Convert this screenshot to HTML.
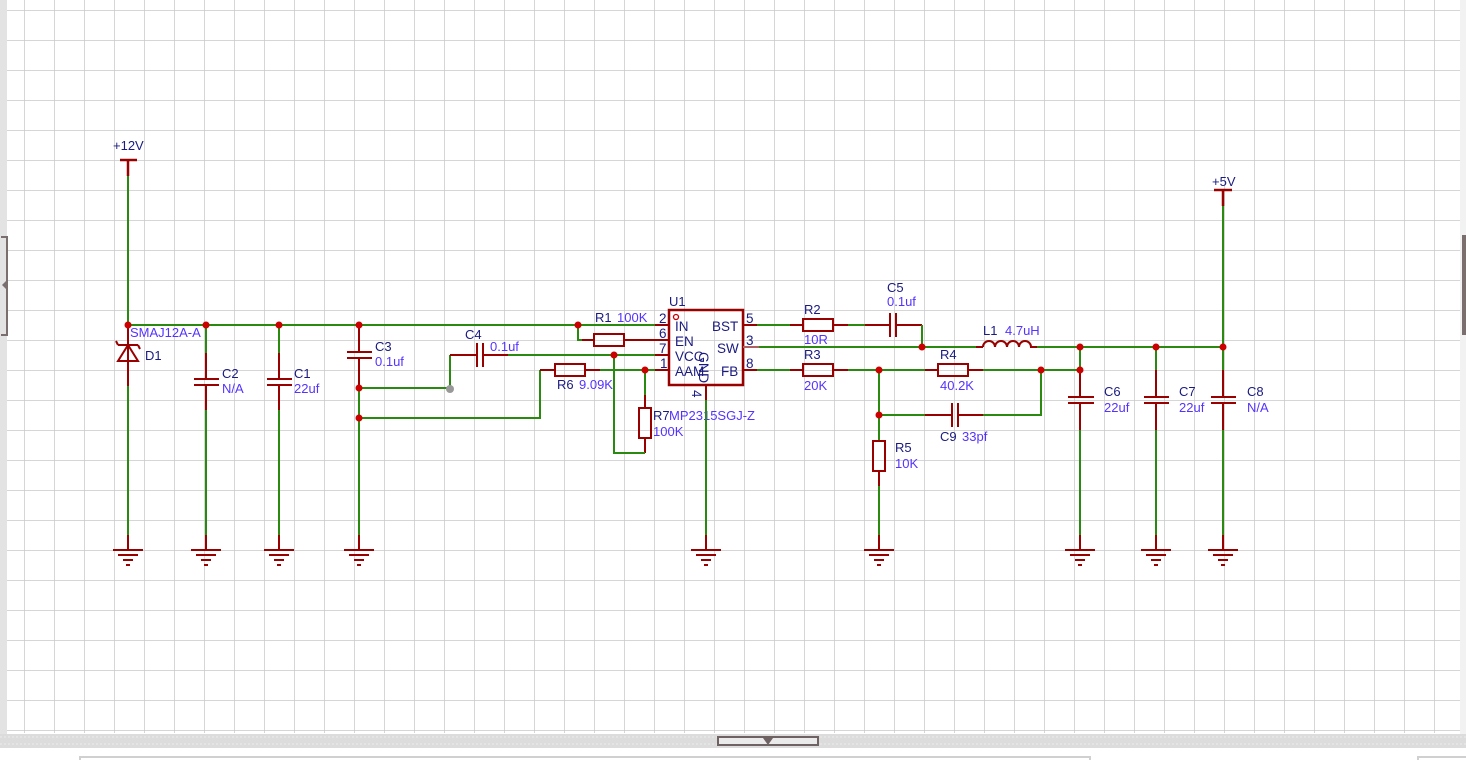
<!DOCTYPE html>
<html><head><meta charset="utf-8"><style>
html,body{margin:0;padding:0;background:#fff;}
svg{display:block;font-family:"Liberation Sans",sans-serif;}
.g{stroke:#2a8a10;stroke-width:2;fill:none}
.r{stroke:#990000;stroke-width:2;fill:none}
.rt{stroke:#990000;stroke-width:2.5;fill:none}
.d{fill:#cc0000}
.bl{fill:#1a1a80;font-size:13px}
.pu{fill:#5533ff;font-size:13px}
.pk{fill:#1a1a80;font-size:13px}
</style></head><body>
<svg width="1466" height="760" viewBox="0 0 1466 760" xmlns="http://www.w3.org/2000/svg">
<defs>
<pattern id="grid" x="24" y="10" width="30" height="30" patternUnits="userSpaceOnUse">
<path d="M0 0H30M0 0V30" stroke="#c9c9c9" stroke-width="1.5" fill="none"/>
</pattern>
<g id="gnd">
<path d="M-15 0H15M-10 5H10M-5 10H5M-2 15H2" stroke="#990000" stroke-width="2" fill="none"/>
</g>
</defs>
<rect x="0" y="0" width="1466" height="760" fill="#fff"/>
<rect x="7" y="0" width="1453" height="733" fill="url(#grid)"/>
<rect x="0" y="0" width="7" height="735" fill="#e3e3e3"/>
<path d="M1 237H7V335H1" stroke="#7a6e6e" stroke-width="2" fill="none"/>
<path d="M7 280L2 285L7 290Z" fill="#7a6e6e"/>
<rect x="1460" y="0" width="6" height="735" fill="#f2f2f2"/>
<rect x="1462" y="235" width="4" height="100" fill="#7a6e6e"/>
<rect x="0" y="734" width="1466" height="14" fill="#dcdcdc"/>
<path d="M0 737H1466M0 744H1466" stroke="#ececec" stroke-width="1" stroke-dasharray="2 2"/>
<rect x="718" y="737" width="100" height="8" fill="#eaeaea" stroke="#6e6262" stroke-width="2"/>
<path d="M763 738L773 738L768 745Z" fill="#6e6262"/>
<rect x="0" y="748" width="1466" height="12" fill="#fff"/>
<path d="M80 760V757H1090V760M1418 760V757H1466" stroke="#d0d0d0" stroke-width="2" fill="none"/>

<text x="113" y="150" class="bl">+12V</text>
<path class="rt" d="M120 160H137M128 160V176"/>
<path class="g" d="M128 176V325"/>
<path class="g" d="M128 325H655"/>
<path class="r" d="M655 325H669"/>
<path class="r" d="M128 325V386"/>
<path class="r" d="M118 345H138M118 345L116 341M138 345L140 349M128 345L118 361H138Z"/>
<path class="g" d="M128 386V535"/>
<path class="r" d="M128 535V550"/>
<use href="#gnd" x="128" y="550"/>
<text x="130" y="337" class="pu">SMAJ12A-A</text>
<text x="145" y="360" class="pk">D1</text>
<path class="g" d="M206 325V353M206 410V535"/>
<path class="r" d="M206 353V379M194 379H219M194 385H219M206 385V410M206 535V550"/>
<use href="#gnd" x="206" y="550"/>
<text x="222" y="378" class="pk">C2</text><text x="222" y="393" class="pu">N/A</text>
<path class="g" d="M279 325V353M279 410V535"/>
<path class="r" d="M279 353V379M267 379H292M267 385H292M279 385V410M279 535V550"/>
<use href="#gnd" x="279" y="550"/>
<text x="294" y="378" class="pk">C1</text><text x="294" y="393" class="pu">22uf</text>
<path class="r" d="M359 325V352M347 352H372M347 358H372M359 358V388"/>
<path class="g" d="M359 388V535"/>
<path class="r" d="M359 535V550"/>
<use href="#gnd" x="359" y="550"/>
<text x="375" y="351" class="pk">C3</text><text x="375" y="366" class="pu">0.1uf</text>
<path class="g" d="M359 388H450V355"/>
<circle cx="450" cy="389" r="4" fill="#999"/>
<path class="r" d="M450 355H477M477 343V367M483 343V367M483 355H508"/>
<path class="g" d="M508 355H655"/>
<path class="r" d="M655 355H669"/>
<text x="465" y="339" class="pk">C4</text><text x="490" y="351" class="pu">0.1uf</text>
<path class="g" d="M359 418H540V370"/>
<path class="r" d="M540 370H555M585 370H600"/>
<rect x="555" y="364" width="30" height="12" class="r"/>
<path class="g" d="M600 370H655"/>
<path class="r" d="M655 370H669"/>
<text x="557" y="389" class="pk">R6</text><text x="579" y="389" class="pu">9.09K</text>
<path class="g" d="M645 370V395"/>
<path class="r" d="M645 395V408M645 438V453"/>
<rect x="639" y="408" width="12" height="30" class="r"/>
<path class="g" d="M645 453H614V355"/>
<text x="653" y="420" class="pk">R7</text><text x="669" y="420" class="pu">MP2315SGJ-Z</text><text x="653" y="436" class="pu">100K</text>
<path class="g" d="M578 325V340H582"/>
<path class="r" d="M582 340H594M624 340H669"/>
<rect x="594" y="334" width="30" height="12" class="r"/>
<text x="595" y="322" class="pk">R1</text><text x="617" y="322" class="pu">100K</text>
<rect x="669" y="310" width="74" height="75" class="rt"/>
<circle cx="676" cy="317" r="2.5" fill="none" stroke="#cc0000" stroke-width="1.3"/>
<text x="669" y="306" class="pk">U1</text>
<g font-size="13.5" fill="#1a1a80">
<text x="659" y="323">2</text><text x="659" y="338">6</text><text x="659" y="353">7</text><text x="660" y="368">1</text>
<text x="675" y="331">IN</text><text x="675" y="346">EN</text><text x="675" y="361">VCC</text><text x="675" y="376">AAM</text>
<text x="712" y="331">BST</text><text x="717" y="353">SW</text><text x="721" y="376">FB</text>
<text x="746" y="323">5</text><text x="746" y="345">3</text><text x="746" y="368">8</text>
<text transform="translate(699,352) rotate(90)" font-size="14">GND</text>
<text transform="translate(692,390) rotate(90)">4</text>
</g>
<path class="r" d="M706 385V400"/>
<path class="g" d="M706 400V535"/>
<path class="r" d="M706 535V550"/>
<use href="#gnd" x="706" y="550"/>
<path class="r" d="M743 325H757"/>
<path class="g" d="M757 325H790"/>
<path class="r" d="M790 325H803M833 325H848"/>
<rect x="803" y="319" width="30" height="12" class="r"/>
<path class="g" d="M848 325H865"/>
<path class="r" d="M865 325H890M890 313V337M896 313V337M896 325H922"/>
<path class="g" d="M922 325V347"/>
<text x="804" y="314" class="pk">R2</text><text x="804" y="344" class="pu">10R</text>
<text x="887" y="292" class="pk">C5</text><text x="887" y="306" class="pu">0.1uf</text>
<path d="M743 347H759" stroke="#b06060" stroke-width="2"/>
<path class="g" d="M759 347H976"/>
<path class="r" d="M976 347H983M983 347A6 6 0 0 1 995 347A6 6 0 0 1 1007 347A6 6 0 0 1 1019 347A6 6 0 0 1 1031 347H1037"/>
<path class="g" d="M1037 347H1223"/>
<text x="983" y="335" class="pk">L1</text><text x="1005" y="335" class="pu">4.7uH</text>
<path class="r" d="M743 370H757"/>
<path class="g" d="M757 370H790"/>
<path class="r" d="M790 370H803M833 370H848"/>
<rect x="803" y="364" width="30" height="12" class="r"/>
<path class="g" d="M848 370H925"/>
<path class="r" d="M925 370H938M968 370H983"/>
<rect x="938" y="364" width="30" height="12" class="r"/>
<path class="g" d="M983 370H1080"/>
<text x="804" y="359" class="pk">R3</text><text x="804" y="390" class="pu">20K</text>
<text x="940" y="359" class="pk">R4</text><text x="940" y="390" class="pu">40.2K</text>
<path class="g" d="M879 370V441M879 415H925M983 415H1041V370"/>
<path class="r" d="M925 415H952M952 403V427M958 403V427M958 415H983"/>
<text x="940" y="441" class="pk">C9</text><text x="962" y="441" class="pu">33pf</text>
<path class="r" d="M879 471V486"/>
<rect x="873" y="441" width="12" height="30" class="r"/>
<path class="g" d="M879 486V535"/>
<path class="r" d="M879 535V550"/>
<use href="#gnd" x="879" y="550"/>
<text x="895" y="452" class="pk">R5</text><text x="895" y="468" class="pu">10K</text>
<text x="1212" y="186" class="bl">+5V</text>
<path class="rt" d="M1214 190H1232M1223 190V206"/>
<path class="g" d="M1223 206V347"/>
<path class="g" d="M1080 347V370"/>
<path class="r" d="M1080 370V397M1068 397H1094M1068 403H1094M1080 403V430"/>
<path class="g" d="M1080 430V535"/>
<path class="r" d="M1080 535V550"/>
<use href="#gnd" x="1080" y="550"/>
<text x="1104" y="396" class="pk">C6</text><text x="1104" y="412" class="pu">22uf</text>
<path class="g" d="M1156 347V370"/>
<path class="r" d="M1156 370V397M1144 397H1169M1144 403H1169M1156 403V430"/>
<path class="g" d="M1156 430V535"/>
<path class="r" d="M1156 535V550"/>
<use href="#gnd" x="1156" y="550"/>
<text x="1179" y="396" class="pk">C7</text><text x="1179" y="412" class="pu">22uf</text>
<path class="g" d="M1223 347V370"/>
<path class="r" d="M1223 370V397M1211 397H1236M1211 403H1236M1223 403V430"/>
<path class="g" d="M1223 430V535"/>
<path class="r" d="M1223 535V550"/>
<use href="#gnd" x="1223" y="550"/>
<text x="1247" y="396" class="pk">C8</text><text x="1247" y="412" class="pu">N/A</text>
<g class="d">
<circle cx="128" cy="325" r="3.5"/><circle cx="206" cy="325" r="3.5"/><circle cx="279" cy="325" r="3.5"/><circle cx="359" cy="325" r="3.5"/>
<circle cx="578" cy="325" r="3.5"/><circle cx="359" cy="388" r="3.5"/><circle cx="359" cy="418" r="3.5"/>
<circle cx="614" cy="355" r="3.5"/><circle cx="645" cy="370" r="3.5"/>
<circle cx="922" cy="347" r="3.5"/><circle cx="879" cy="370" r="3.5"/><circle cx="879" cy="415" r="3.5"/><circle cx="1041" cy="370" r="3.5"/>
<circle cx="1080" cy="347" r="3.5"/><circle cx="1080" cy="370" r="3.5"/><circle cx="1156" cy="347" r="3.5"/><circle cx="1223" cy="347" r="3.5"/>
</g>
</svg>
</body></html>
